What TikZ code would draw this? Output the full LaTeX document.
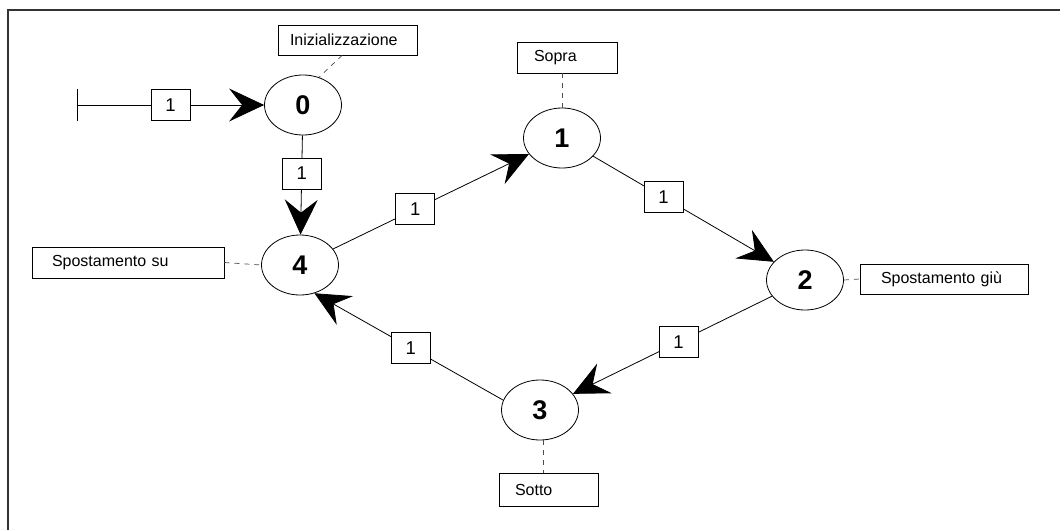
\documentclass[tikz,border=0pt]{standalone}
\usepackage{fontspec}
\setmainfont{Liberation Sans}
\usetikzlibrary{shapes.geometric,arrows.meta}
\tikzset{arr/.tip={Stealth[length=35pt, width=33pt, inset=13pt]}}
\begin{document}
\begin{tikzpicture}[x=1pt,y=-1pt,
  state/.style={draw, ellipse, line width=0.8pt, minimum width=77pt, minimum height=60pt,
    inner sep=0pt, font=\fontsize{27}{32}\selectfont\bfseries},
  tag/.style={draw, rectangle, line width=0.8pt, minimum height=31pt, inner sep=0pt,
    align=left, font=\fontsize{16}{19}\selectfont},
  cond/.style={draw, fill=white, rectangle, line width=0.8pt, minimum width=39pt,
    minimum height=31pt, inner sep=0pt, font=\fontsize{18.5}{22}\selectfont},
  trans/.style={line width=0.8pt, -arr},
  link/.style={line width=0.7pt, dash pattern=on 5pt off 5pt, black!70},
]
\fill[white] (0,0) rectangle (1060,530);
\useasboundingbox (0,0) rectangle (1060,530);

% frame
\draw[line width=1.3pt, black!80] (8,530) -- (8,10) -- (1060,10);

% states
\node[state] (n0) at (303,105) {0};
\node[state] (n4) at (300,265) {4};
\node[state] (n1) at (562,138) {1};
\node[state] (n2) at (805,280) {2};
\node[state] (n3) at (540,410) {3};

% state descriptions
\node[tag, text width=139pt, minimum height=30pt] (tinit) at (347.5,40) {\hspace*{12pt}Inizializzazione};
\node[tag, text width=100pt] (tsopra) at (567,57.5) {\hspace*{17pt}Sopra};
\node[tag, text width=192pt] (tsu) at (128,262.5) {\hspace*{20pt}Spostamento su};
\node[tag, text width=168pt, minimum height=30pt] (tgiu) at (944,279) {\hspace*{21pt}Spostamento giù};
\node[tag, text width=99pt, minimum height=33pt] (tsotto) at (548.5,489.5) {\hspace*{16pt}Sotto};

% description links
\draw[link] ([xshift=-5.5pt]tinit.south) -- (n0.60);
\draw[link] (n1.north) -- (n1.north |- tsopra.south);
\draw[link] (tsu.east) -- (n4.west);
\draw[link] (n2.east) -- (tgiu.west);
\draw[link] (n3.-83) -- (n3.-83 |- tsotto.north);

% initial transition
\coordinate (s) at (77,105);
\draw[line width=0.8pt, {Bar[width=32pt]}-arr] (s) -- node[cond, pos=.5] {1} (n0);

% transitions
\draw[trans] (n0) -- node[cond, pos=.385] {1} (n4);
\draw[trans] (n4) -- node[cond, pos=.42] {1} (n1);
\draw[trans] (n1) -- node[cond, pos=.39] {1} (n2);
\draw[trans] (n2) -- node[cond, pos=.47] {1} (n3);
\draw[trans] (n3.165) -- node[cond, pos=.49] {1} (n4.-63);
\end{tikzpicture}
\end{document}
